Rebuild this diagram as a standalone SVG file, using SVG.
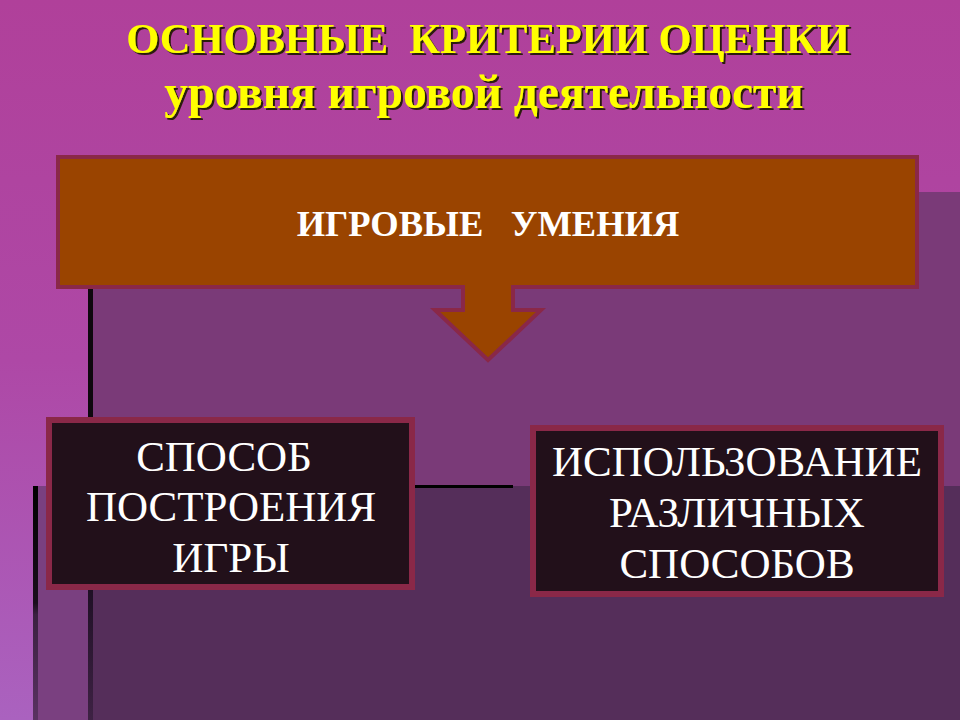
<svg xmlns="http://www.w3.org/2000/svg" width="960" height="720" viewBox="0 0 960 720">
<defs>
<linearGradient id="bg" x1="0" y1="0" x2="0" y2="1">
<stop offset="0" stop-color="#b0409a"/>
<stop offset="0.5" stop-color="#ae48a6"/>
<stop offset="1" stop-color="#aa62bf"/>
</linearGradient>
<linearGradient id="fadeL" x1="0" y1="0" x2="0" y2="1">
<stop offset="0" stop-color="#000000"/>
<stop offset="0.5" stop-color="#1a0d1c"/>
<stop offset="0.55" stop-color="#3a2040"/>
<stop offset="1" stop-color="#5a3262"/>
</linearGradient>
<linearGradient id="fadeR" x1="0" y1="0" x2="0" y2="1">
<stop offset="0" stop-color="#1f1025"/>
<stop offset="1" stop-color="#3e2244"/>
</linearGradient>
<filter id="shadow" x="-5%" y="-20%" width="110%" height="140%">
<feDropShadow dx="2" dy="2" stdDeviation="0.6" flood-color="#2a1a10" flood-opacity="1"/>
</filter>
<style>
.ttl{fill:#ffff00}
.sub{fill:#ffffff}
.lbl{fill:#ffffff}
.box{fill:#22101a;stroke:#8a2848;stroke-width:6}
</style>
</defs>
<rect x="0" y="0" width="960" height="720" fill="url(#bg)"/>
<g id="backdrop">
<rect x="88" y="192" width="872" height="528" fill="#7a3a78"/>
<rect x="88" y="486" width="872" height="234" fill="#552e5a"/>
<rect x="33" y="486" width="55" height="234" fill="#7a4080"/>
<rect x="33" y="486" width="5" height="234" fill="url(#fadeL)"/>
<rect x="88" y="192" width="5" height="400" fill="#0e080e"/>
<rect x="88" y="590" width="5" height="130" fill="url(#fadeR)"/>
</g>
<g id="connectors">
<rect x="88" y="485" width="425" height="3" fill="#000000"/>
</g>
<g id="title" filter="url(#shadow)">
<text class="ttl" x="488" y="53" text-anchor="middle" font-weight="bold" font-size="42.5" font-family="Liberation Serif" xml:space="preserve">ОСНОВНЫЕ  КРИТЕРИИ ОЦЕНКИ</text>
<text class="ttl" x="484" y="108" text-anchor="middle" font-weight="bold" font-size="47.5" font-family="Liberation Serif">уровня игровой деятельности</text>
</g>
<g id="node-skills">
<path d="M58,157 H917 V287 H513 V310 H541 L488,360 L435,310 H463 V287 H58 Z" fill="#9a4400" stroke="#8a2848" stroke-width="4" stroke-linejoin="miter"/>
<text class="sub" x="488" y="236" text-anchor="middle" font-weight="bold" font-size="36.5" font-family="Liberation Serif" xml:space="preserve">ИГРОВЫЕ   УМЕНИЯ</text>
</g>
<g id="node-method">
<rect class="box" x="49" y="420" width="363" height="167"/>
<text class="lbl" x="224" y="471" text-anchor="middle" font-size="43" font-family="Liberation Serif">СПОСОБ</text>
<text class="lbl" x="231" y="521" text-anchor="middle" font-size="43" font-family="Liberation Serif">ПОСТРОЕНИЯ</text>
<text class="lbl" x="231" y="572" text-anchor="middle" font-size="43" font-family="Liberation Serif">ИГРЫ</text>
</g>
<g id="node-use">
<rect class="box" x="533" y="428" width="408" height="166"/>
<text class="lbl" x="737" y="476" text-anchor="middle" font-size="43" font-family="Liberation Serif">ИСПОЛЬЗОВАНИЕ</text>
<text class="lbl" x="737" y="527" text-anchor="middle" font-size="43" font-family="Liberation Serif">РАЗЛИЧНЫХ</text>
<text class="lbl" x="737" y="578" text-anchor="middle" font-size="43" font-family="Liberation Serif">СПОСОБОВ</text>
</g>
</svg>
